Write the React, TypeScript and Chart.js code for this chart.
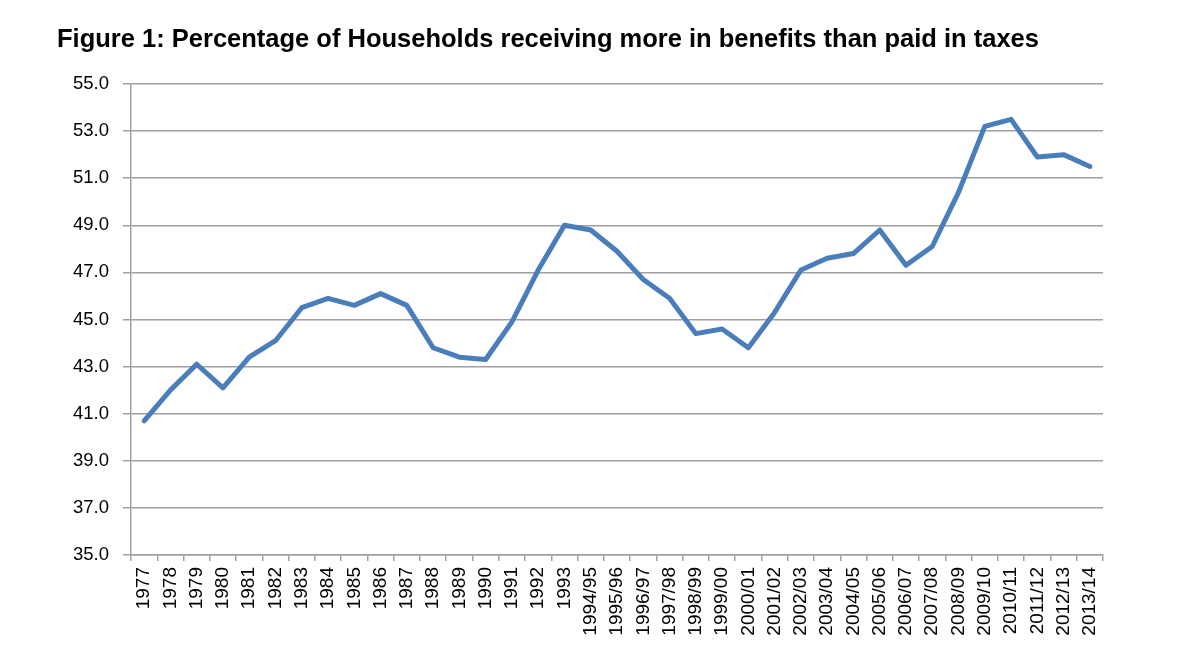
import React, { useEffect, useRef } from "react";
import { Chart, registerables } from "chart.js";

Chart.register(...registerables);

const categories: string[] = [
  "1977", "1978", "1979", "1980", "1981", "1982", "1983", "1984", "1985", "1986",
  "1987", "1988", "1989", "1990", "1991", "1992", "1993",
  "1994/95", "1995/96", "1996/97", "1997/98", "1998/99", "1999/00", "2000/01",
  "2001/02", "2002/03", "2003/04", "2004/05", "2005/06", "2006/07", "2007/08",
  "2008/09", "2009/10", "2010/11", "2011/12", "2012/13", "2013/14",
];

const percentages: number[] = [
  40.7, 42.0, 43.1, 42.1, 43.4, 44.1, 45.5, 45.9, 45.6, 46.1,
  45.6, 43.8, 43.4, 43.3, 44.9, 47.1, 49.0,
  48.8, 47.9, 46.7, 45.9, 44.4, 44.6, 43.8,
  45.3, 47.1, 47.6, 47.8, 48.8, 47.3, 48.1,
  50.4, 53.2, 53.5, 51.9, 52.0, 51.5,
];

const yMin = 35;
const yMax = 55;
const yStep = 2;

const titleText = "Figure 1: Percentage of Households receiving more in benefits than paid in taxes";

const FONT = "'Liberation Sans', Arial, Helvetica, sans-serif";

export default function App() {
  const canvasRef = useRef<HTMLCanvasElement | null>(null);

  useEffect(() => {
    if (!canvasRef.current) return;
    const chart = new Chart(canvasRef.current, {
      type: "line",
      data: {
        labels: categories,
        datasets: [
          {
            data: percentages,
            borderColor: "#4A7EBB",
            backgroundColor: "#4A7EBB",
            borderWidth: 5,
            pointRadius: 0,
            pointHoverRadius: 0,
            tension: 0,
            fill: false,
            borderJoinStyle: "round",
            borderCapStyle: "round",
          },
        ],
      },
      options: {
        animation: false,
        responsive: true,
        maintainAspectRatio: false,
        layout: { padding: { left: 57, right: 96, top: 0, bottom: 0 } },
        plugins: {
          legend: { display: false },
          tooltip: { enabled: false },
          title: {
            display: true,
            text: titleText,
            align: "start",
            color: "#000",
            font: { family: FONT, size: 25.5, weight: "bold" },
            padding: { top: 25, bottom: 28.4 },
          },
        },
        scales: {
          x: {
            type: "category",
            offset: true,
            grid: {
              offset: true,
              drawOnChartArea: false,
              drawTicks: true,
              tickLength: 6,
              color: "#a0a0a0",
              lineWidth: 1.5,
            },
            border: { display: true, color: "#a0a0a0", width: 1.5 },
            ticks: {
              autoSkip: false,
              maxRotation: 90,
              minRotation: 90,
              padding: 6,
              color: "#000",
              font: { family: FONT, size: 19 },
            },
            afterFit: (scale: any) => {
              scale.height = 117;
            },
          },
          y: {
            min: yMin,
            max: yMax,
            grid: {
              color: "#a0a0a0",
              lineWidth: 1.5,
              drawTicks: true,
              tickLength: 8,
            },
            border: { display: true, color: "#a0a0a0", width: 1.5 },
            ticks: {
              stepSize: yStep,
              padding: 14,
              color: "#000",
              font: { family: FONT, size: 18.5 },
              callback: (v: any) => Number(v).toFixed(1),
            },
            afterFit: (scale: any) => {
              scale.width = 74;
            },
          },
        },
      },
    });
    return () => chart.destroy();
  }, []);

  return (
    <div
      style={{
        position: "absolute",
        left: 0,
        top: 0,
        width: 1199,
        height: 672,
        background: "#fff",
      }}
    >
      <canvas ref={canvasRef} />
    </div>
  );
}
